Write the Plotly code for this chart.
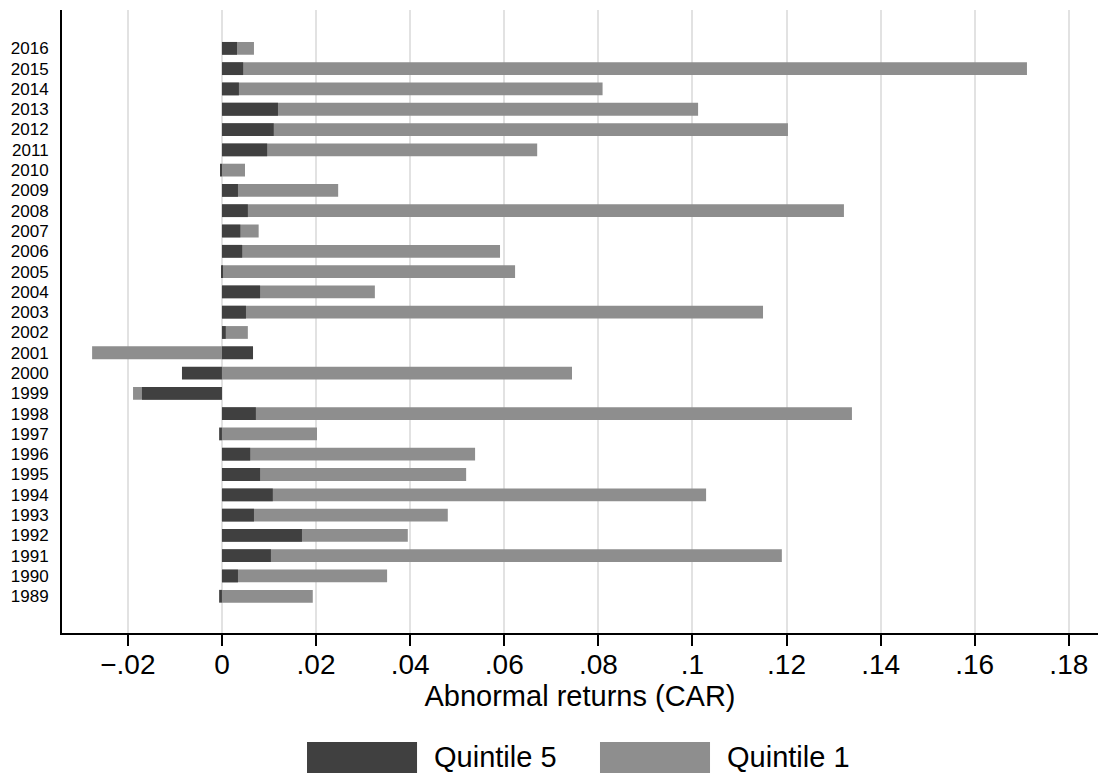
import plotly.graph_objects as go

years = list(range(1989, 2017))
quintile5 = [-0.0006, 0.0034, 0.0104, 0.0170, 0.0068, 0.0108, 0.0081, 0.0060,
             -0.0006, 0.0072, -0.0170, -0.0085, 0.0066, 0.0008, 0.0051, 0.0081,
             0.0002, 0.0043, 0.0039, 0.0055, 0.0034, -0.0004, 0.0096, 0.0110,
             0.0119, 0.0036, 0.0045, 0.0032]
quintile1 = [0.0193, 0.0351, 0.1190, 0.0395, 0.0480, 0.1029, 0.0519, 0.0538,
             0.0202, 0.1339, -0.0189, 0.0744, -0.0276, 0.0055, 0.1150, 0.0325,
             0.0623, 0.0591, 0.0078, 0.1322, 0.0247, 0.0049, 0.0670, 0.1203,
             0.1012, 0.0809, 0.1711, 0.0068]
x_tickvals = [-0.02, 0, 0.02, 0.04, 0.06, 0.08, 0.10, 0.12, 0.14, 0.16, 0.18]
x_ticktext = ["\u2212.02", "0", ".02", ".04", ".06", ".08", ".1", ".12", ".14", ".16", ".18"]
series_names = ["Quintile 5", "Quintile 1"]

DARK = "rgb(64,64,64)"
LIGHT = "rgb(142,142,142)"
FONT = "Liberation Sans, Arial, Helvetica, sans-serif"

fig = go.Figure()
fig.add_trace(go.Bar(y=years, x=quintile1, orientation="h", name=series_names[1],
                     marker=dict(color=LIGHT, line=dict(width=0)), width=0.63,
                     showlegend=False))
fig.add_trace(go.Bar(y=years, x=quintile5, orientation="h", name=series_names[0],
                     marker=dict(color=DARK, line=dict(width=0)), width=0.63,
                     showlegend=False))

fig.update_layout(
    width=1102, height=774,
    margin=dict(l=62, r=4, t=10, b=141, autoexpand=False),
    paper_bgcolor="white", plot_bgcolor="white",
    barmode="overlay",
    font=dict(family=FONT, color="black"),
)
fig.update_xaxes(
    range=[-0.034, 0.1862],
    tickvals=x_tickvals, ticktext=x_ticktext,
    tickfont=dict(size=28, family=FONT),
    ticks="outside", ticklen=11, tickwidth=2, tickcolor="black",
    ticklabelstandoff=-6,
    showgrid=True, gridcolor="rgb(226,226,226)", gridwidth=2,
    showline=True, linecolor="black", linewidth=2,
    zeroline=False, automargin=False,
    title=dict(text="Abnormal returns (CAR)", font=dict(size=29, family=FONT), standoff=0),
)
fig.update_yaxes(
    range=[1987.19, 2017.89],
    tickvals=years, ticktext=[str(y) for y in years],
    tickfont=dict(size=17, family=FONT),
    ticks="outside", ticklen=8, tickcolor="rgba(0,0,0,0)",
    showgrid=False, zeroline=False, automargin=False,
    showline=True, linecolor="black", linewidth=2,
)

# legend drawn below the plot (Stata style wide swatches)
legend_items = [(series_names[0], DARK, 0.2365, 0.3427, 0.3571),
                (series_names[1], LIGHT, 0.5193, 0.6255, 0.6400)]
for name, col, x0, x1, tx in legend_items:
    fig.add_shape(type="rect", xref="paper", yref="paper", x0=x0, x1=x1,
                  y0=-0.2247, y1=-0.175, fillcolor=col, line=dict(width=0))
    fig.add_annotation(xref="paper", yref="paper", x=tx, y=-0.199, text=name,
                       showarrow=False, xanchor="left", yanchor="middle",
                       font=dict(size=29, family=FONT, color="black"))

fig.write_html("out.html",
               config={"displayModeBar": False},
               post_script="document.body.style.margin='0px';document.body.style.overflow='hidden';")
